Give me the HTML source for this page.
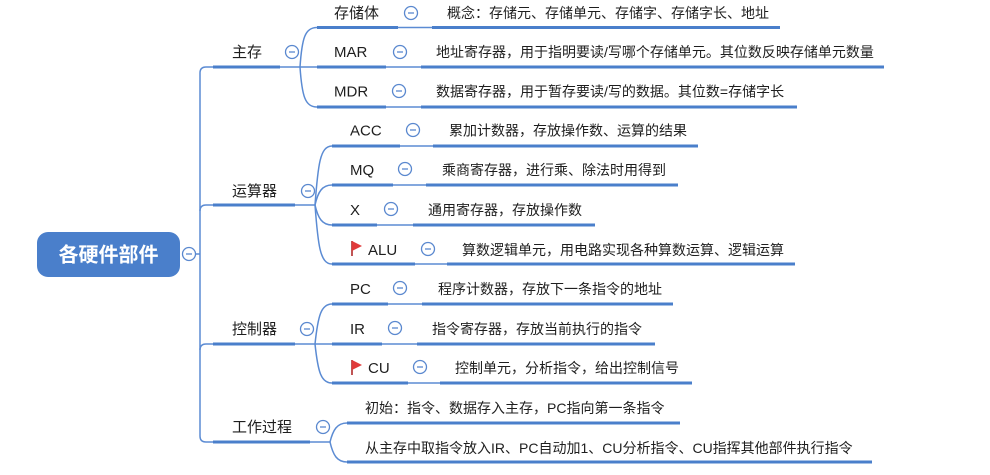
<!DOCTYPE html>
<html>
<head>
<meta charset="utf-8">
<style>
  html,body{margin:0;padding:0;background:#ffffff;}
  body{width:990px;height:475px;overflow:hidden;}
  svg{display:block;}
  text{font-family:"Liberation Sans","Noto Sans CJK SC",sans-serif;fill:#1e1e1e;}
  .l1{font-size:15px;}
  .l2{font-size:15px;}
  .d{font-size:14px;}
  .thick{stroke:#4a7fcb;stroke-width:3;fill:none;}
  .thin{stroke:#5b8bd3;stroke-width:1.5;fill:none;}
  .cb circle{fill:#fff;stroke:#5a88cf;stroke-width:1.3;}
  .cb line{stroke:#5a88cf;stroke-width:1.3;}
</style>
</head>
<body>
<svg width="990" height="475" viewBox="0 0 990 475" xmlns="http://www.w3.org/2000/svg">
  <!-- root -->
  <rect x="37" y="232" width="143" height="45" rx="11" ry="11" fill="#4a7fcb"/>
  <text x="108.5" y="261.5" text-anchor="middle" style="font-size:20px;font-weight:bold;fill:#ffffff;">各硬件部件</text>

  <!-- root connector and trunk -->
  <path class="thin" d="M195,254 L200,254"/>
  <path class="thin" d="M200,73 Q200,67 206,67 L213,67"/>
  <path class="thin" d="M200,73 L200,436"/>
  <path class="thin" d="M200,436 Q200,442 206,442 L213,442"/>
  <path class="thin" d="M200,211 Q200,205 206,205 L213,205"/>
  <path class="thin" d="M200,350 Q200,344 206,344 L213,344"/>

  <!-- level 1 underlines -->
  <line class="thick" x1="213" y1="67" x2="280" y2="67"/>
  <line class="thick" x1="213" y1="205" x2="295" y2="205"/>
  <line class="thick" x1="213" y1="344" x2="295" y2="344"/>
  <line class="thick" x1="213" y1="442" x2="310" y2="442"/>

  <!-- level 1 labels -->
  <text class="l1" x="232" y="57">主存</text>
  <text class="l1" x="232" y="196">运算器</text>
  <text class="l1" x="232" y="334">控制器</text>
  <text class="l1" x="232" y="432">工作过程</text>

  <!-- 主存 branch -->
  <path class="thin" d="M280,67 L317,67"/>
  <path class="thin" d="M300,67 C302,38 305,27.5 317,27.5"/>
  <path class="thin" d="M300,67 C302,96 305,107 317,107"/>

  <!-- 运算器 branch -->
  <path class="thin" d="M295,205 L315,205"/>
  <path class="thin" d="M315,205 C318,165 320,146 332,146"/>
  <path class="thin" d="M315,205 C318,192 322,185 332,185"/>
  <path class="thin" d="M315,205 C318,218 322,225 332,225"/>
  <path class="thin" d="M315,205 C318,245 320,264 332,264"/>

  <!-- 控制器 branch -->
  <path class="thin" d="M295,344 L332,344"/>
  <path class="thin" d="M315,344 C318,316 321,304 332,304"/>
  <path class="thin" d="M315,344 C318,372 321,383 332,383"/>

  <!-- 工作过程 branch -->
  <path class="thin" d="M310,442 L330,442"/>
  <path class="thin" d="M330,442 C333,430 337,423 347,423"/>
  <path class="thin" d="M330,442 C333,455 337,462 347,462"/>

  <!-- level 2 underlines + thin + desc underlines -->
  <line class="thick" x1="317" y1="27.5" x2="398" y2="27.5"/>
  <line class="thin" x1="398" y1="27.5" x2="432" y2="27.5"/>
  <line class="thick" x1="432" y1="27.5" x2="780" y2="27.5"/>

  <line class="thick" x1="317" y1="67" x2="386" y2="67"/>
  <line class="thin" x1="386" y1="67" x2="421" y2="67"/>
  <line class="thick" x1="421" y1="67" x2="884" y2="67"/>

  <line class="thick" x1="317" y1="107" x2="386" y2="107"/>
  <line class="thin" x1="386" y1="107" x2="421" y2="107"/>
  <line class="thick" x1="421" y1="107" x2="797" y2="107"/>

  <line class="thick" x1="332" y1="146" x2="400" y2="146"/>
  <line class="thin" x1="400" y1="146" x2="433" y2="146"/>
  <line class="thick" x1="433" y1="146" x2="698" y2="146"/>

  <line class="thick" x1="332" y1="185" x2="393" y2="185"/>
  <line class="thin" x1="393" y1="185" x2="426" y2="185"/>
  <line class="thick" x1="426" y1="185" x2="678" y2="185"/>

  <line class="thick" x1="332" y1="225" x2="377" y2="225"/>
  <line class="thin" x1="377" y1="225" x2="413" y2="225"/>
  <line class="thick" x1="413" y1="225" x2="595" y2="225"/>

  <line class="thick" x1="332" y1="264" x2="415" y2="264"/>
  <line class="thin" x1="415" y1="264" x2="447" y2="264"/>
  <line class="thick" x1="447" y1="264" x2="795" y2="264"/>

  <line class="thick" x1="332" y1="304" x2="388" y2="304"/>
  <line class="thin" x1="388" y1="304" x2="422" y2="304"/>
  <line class="thick" x1="422" y1="304" x2="673" y2="304"/>

  <line class="thick" x1="332" y1="344" x2="382" y2="344"/>
  <line class="thin" x1="382" y1="344" x2="417" y2="344"/>
  <line class="thick" x1="417" y1="344" x2="655" y2="344"/>

  <line class="thick" x1="332" y1="383" x2="408" y2="383"/>
  <line class="thin" x1="408" y1="383" x2="440" y2="383"/>
  <line class="thick" x1="440" y1="383" x2="692" y2="383"/>

  <line class="thick" x1="347" y1="423" x2="680" y2="423"/>
  <line class="thick" x1="347" y1="462" x2="872" y2="462"/>

  <!-- level 2 labels -->
  <text class="l2" x="334" y="18">存储体</text>
  <text class="l2" x="334" y="57">MAR</text>
  <text class="l2" x="334" y="96.5">MDR</text>
  <text class="l2" x="350" y="135.5">ACC</text>
  <text class="l2" x="350" y="175">MQ</text>
  <text class="l2" x="350" y="215">X</text>
  <text class="l2" x="368" y="255">ALU</text>
  <text class="l2" x="350" y="294">PC</text>
  <text class="l2" x="350" y="334">IR</text>
  <text class="l2" x="368" y="373">CU</text>

  <!-- flags -->
  <g>
    <line x1="352" y1="241" x2="352" y2="256" stroke="#b02a2a" stroke-width="1.6"/>
    <path d="M352,241 L362,246 L352,251 Z" fill="#e03a3a"/>
  </g>
  <g>
    <line x1="352" y1="360" x2="352" y2="375" stroke="#b02a2a" stroke-width="1.6"/>
    <path d="M352,360 L362,365 L352,370 Z" fill="#e03a3a"/>
  </g>

  <!-- descriptions -->
  <text class="d" x="447" y="18">概念：存储元、存储单元、存储字、存储字长、地址</text>
  <text class="d" x="436" y="57">地址寄存器，用于指明要读/写哪个存储单元。其位数反映存储单元数量</text>
  <text class="d" x="436" y="96.5">数据寄存器，用于暂存要读/写的数据。其位数=存储字长</text>
  <text class="d" x="449" y="135.5">累加计数器，存放操作数、运算的结果</text>
  <text class="d" x="442" y="175">乘商寄存器，进行乘、除法时用得到</text>
  <text class="d" x="428" y="215">通用寄存器，存放操作数</text>
  <text class="d" x="462" y="255">算数逻辑单元，用电路实现各种算数运算、逻辑运算</text>
  <text class="d" x="438" y="294">程序计数器，存放下一条指令的地址</text>
  <text class="d" x="432" y="334">指令寄存器，存放当前执行的指令</text>
  <text class="d" x="455" y="373">控制单元，分析指令，给出控制信号</text>
  <text class="d" x="365" y="413">初始：指令、数据存入主存，PC指向第一条指令</text>
  <text class="d" x="365" y="453">从主存中取指令放入IR、PC自动加1、CU分析指令、CU指挥其他部件执行指令</text>

  <!-- collapse buttons -->
  <g class="cb">
    <circle cx="189" cy="254" r="6.5"/><line x1="186" y1="254" x2="192" y2="254"/>
    <circle cx="292" cy="52" r="6.5"/><line x1="289" y1="52" x2="295" y2="52"/>
    <circle cx="308" cy="191" r="6.5"/><line x1="305" y1="191" x2="311" y2="191"/>
    <circle cx="307" cy="329" r="6.5"/><line x1="304" y1="329" x2="310" y2="329"/>
    <circle cx="323" cy="427" r="6.5"/><line x1="320" y1="427" x2="326" y2="427"/>
    <circle cx="411" cy="13" r="6.5"/><line x1="408" y1="13" x2="414" y2="13"/>
    <circle cx="400" cy="52" r="6.5"/><line x1="397" y1="52" x2="403" y2="52"/>
    <circle cx="399" cy="91" r="6.5"/><line x1="396" y1="91" x2="402" y2="91"/>
    <circle cx="413" cy="130" r="6.5"/><line x1="410" y1="130" x2="416" y2="130"/>
    <circle cx="405" cy="169" r="6.5"/><line x1="402" y1="169" x2="408" y2="169"/>
    <circle cx="391" cy="209" r="6.5"/><line x1="388" y1="209" x2="394" y2="209"/>
    <circle cx="428" cy="249" r="6.5"/><line x1="425" y1="249" x2="431" y2="249"/>
    <circle cx="400" cy="288" r="6.5"/><line x1="397" y1="288" x2="403" y2="288"/>
    <circle cx="395" cy="328" r="6.5"/><line x1="392" y1="328" x2="398" y2="328"/>
    <circle cx="420" cy="367" r="6.5"/><line x1="417" y1="367" x2="423" y2="367"/>
  </g>
</svg>
</body>
</html>
